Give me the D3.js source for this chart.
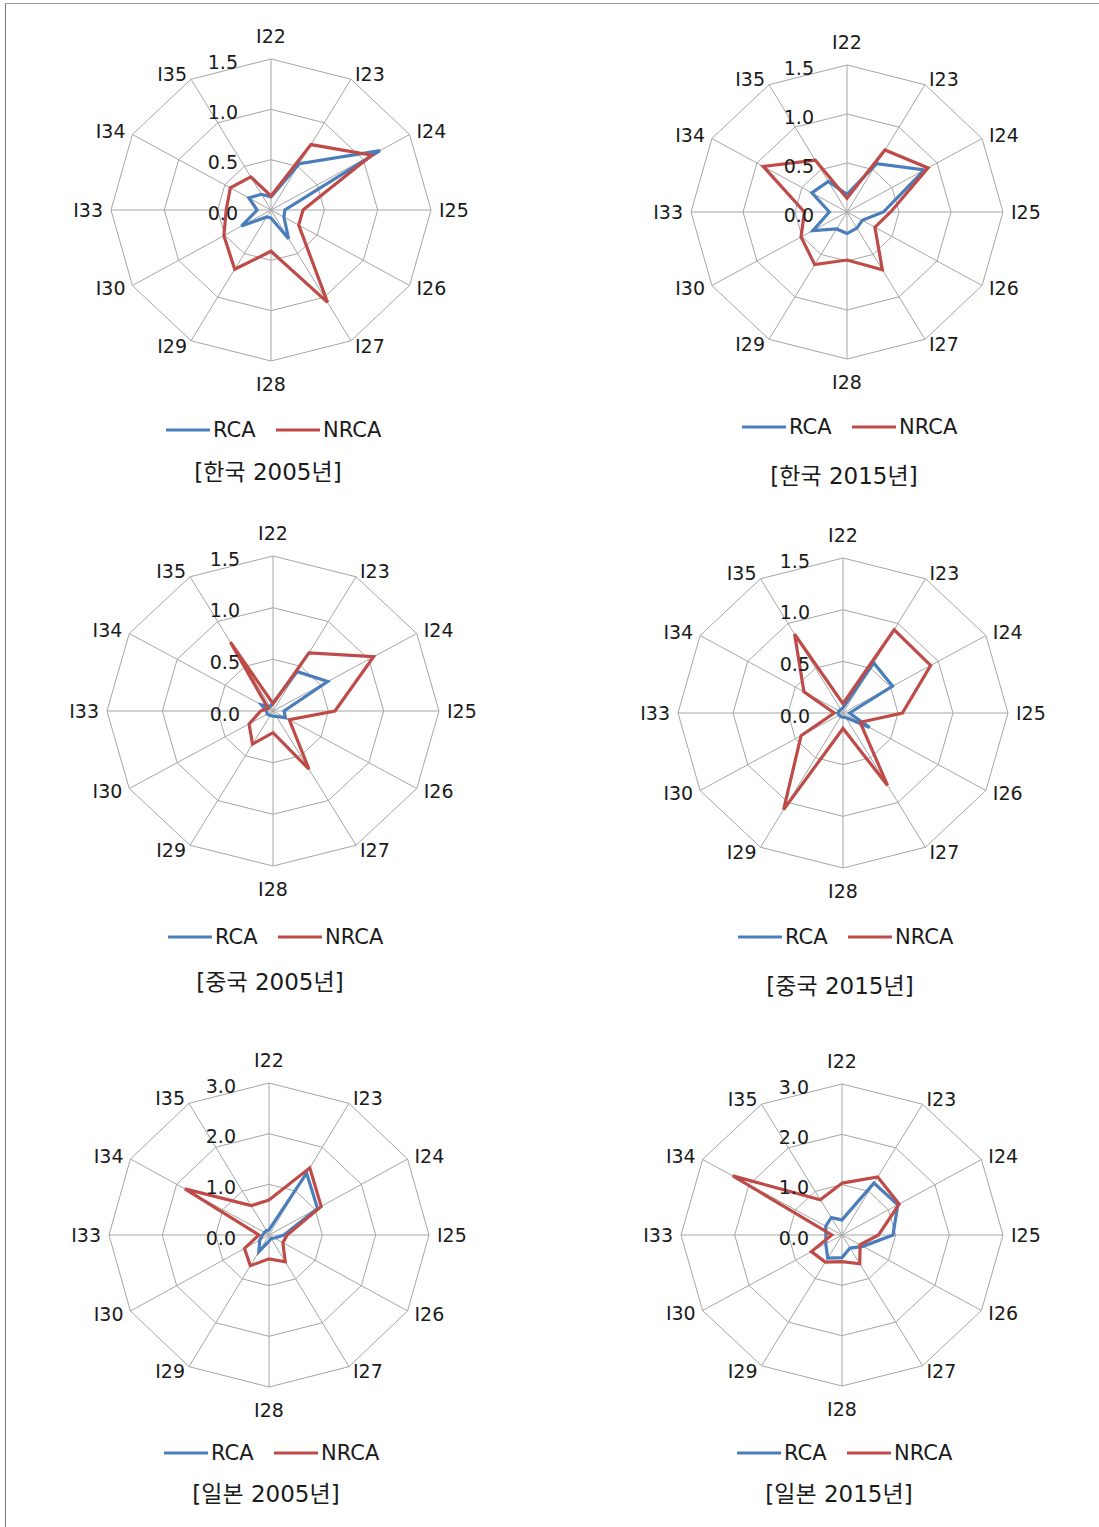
<!DOCTYPE html>
<html>
<head>
<meta charset="utf-8">
<script src="https://cdn.jsdelivr.net/npm/d3@7"></script>
<style>
	body { margin: 0; background: #fff; }
	text { font-family: "DejaVu Sans", "Noto Sans CJK KR", sans-serif; fill: #1a1a1a; }
</style>
</head>
<body>
<svg id="chart"></svg>
<script>
// categories (clockwise from top)
const axes = ['I22', 'I23', 'I24', 'I25', 'I26', 'I27', 'I28', 'I29', 'I30', 'I33', 'I34', 'I35'];
const ticksSmall = [0, 0.5, 1.0, 1.5];
const ticksLarge = [0, 1.0, 2.0, 3.0];
const seriesNames = ['RCA', 'NRCA'];

// values
const kor2005Rca  = [0.13, 0.53, 1.18, 0.13, 0.14, 0.33, 0.08, 0.08, 0.32, 0.13, 0.24, 0.18];
const kor2005Nrca = [0.14, 0.75, 1.09, 0.30, 0.30, 1.06, 0.41, 0.68, 0.51, 0.42, 0.44, 0.38];
const kor2015Rca  = [0.18, 0.57, 0.86, 0.35, 0.17, 0.19, 0.22, 0.20, 0.38, 0.17, 0.39, 0.36];
const kor2015Nrca = [0.14, 0.73, 0.90, 0.42, 0.31, 0.68, 0.49, 0.62, 0.51, 0.41, 0.93, 0.61];
const chn2005Rca  = [0.08, 0.44, 0.57, 0.10, 0.13, 0.06, 0.05, 0.05, 0.06, 0.06, 0.12, 0.05];
const chn2005Nrca = [0.07, 0.65, 1.05, 0.56, 0.17, 0.65, 0.21, 0.37, 0.25, 0.11, 0.05, 0.77];
const chn2015Rca  = [0.05, 0.56, 0.52, 0.06, 0.28, 0.05, 0.04, 0.04, 0.04, 0.05, 0.04, 0.04];
const chn2015Nrca = [0.09, 0.93, 0.92, 0.54, 0.18, 0.81, 0.15, 1.08, 0.44, 0.08, 0.41, 0.88];
const jpn2005Rca  = [0.10, 1.41, 1.05, 0.28, 0.12, 0.08, 0.12, 0.38, 0.20, 0.12, 0.10, 0.10];
const jpn2005Nrca = [0.69, 1.53, 1.13, 0.34, 0.30, 0.61, 0.47, 0.70, 0.53, 0.19, 1.82, 0.67];
const jpn2015Rca  = [0.30, 1.19, 1.20, 0.95, 0.45, 0.30, 0.45, 0.53, 0.35, 0.30, 0.35, 0.40];
const jpn2015Nrca = [1.03, 1.33, 1.23, 0.68, 0.39, 0.66, 0.53, 0.62, 0.66, 0.19, 2.35, 0.81];

const titles = ['[한국 2005년]', '[한국 2015년]', '[중국 2005년]', '[중국 2015년]', '[일본 2005년]', '[일본 2015년]'];

const panels = [
	{ cx: 271, cy: 210, rx: 160, ry: 151, ticks: ticksSmall, data: [kor2005Rca, kor2005Nrca], legY: 430, titleY: 472 },
	{ cx: 847, cy: 212, rx: 156, ry: 147, ticks: ticksSmall, data: [kor2015Rca, kor2015Nrca], legY: 427, titleY: 476 },
	{ cx: 273, cy: 711, rx: 166, ry: 155, ticks: ticksSmall, data: [chn2005Rca, chn2005Nrca], legY: 937, titleY: 982 },
	{ cx: 843, cy: 713, rx: 165, ry: 155, ticks: ticksSmall, data: [chn2015Rca, chn2015Nrca], legY: 937, titleY: 986 },
	{ cx: 269, cy: 1235, rx: 160, ry: 152, ticks: ticksLarge, data: [jpn2005Rca, jpn2005Nrca], legY: 1453, titleY: 1494 },
	{ cx: 842, cy: 1235, rx: 161, ry: 151, ticks: ticksLarge, data: [jpn2015Rca, jpn2015Nrca], legY: 1453, titleY: 1494 }
];

const colors = ['#4a7ebb', '#be4b48'];

function makeRadar(svg, p, title) {
	let g = svg.append('g').attr('transform', `translate(${p.cx},${p.cy})`);
	let max = d3.max(p.ticks);
	let sx = d3.scaleLinear().domain([0, max]).range([0, p.rx]);
	let sy = d3.scaleLinear().domain([0, max]).range([0, p.ry]);
	let angle = d3.scalePoint().domain(axes).range([0, 2 * Math.PI * (axes.length - 1) / axes.length]);

	let px = (a, v) => sx(v) * Math.sin(angle(a));
	let py = (a, v) => -sy(v) * Math.cos(angle(a));

	let ring = d3.line().curve(d3.curveLinearClosed);

	// grid rings
	g.selectAll('.ring')
		.data(p.ticks.filter(t => t > 0))
		.enter()
		.append('path')
		.attr('d', t => ring(axes.map(a => [px(a, t), py(a, t)])))
		.style('fill', 'none')
		.style('stroke', '#a6a6a6')
		.style('stroke-width', 1);

	// spokes
	g.selectAll('.spoke')
		.data(axes)
		.enter()
		.append('line')
		.attr('x1', 0).attr('y1', 0)
		.attr('x2', a => px(a, max))
		.attr('y2', a => py(a, max))
		.style('stroke', '#a6a6a6')
		.style('stroke-width', 1);

	// axis labels
	g.selectAll('.axlab')
		.data(axes)
		.enter()
		.append('text')
		.attr('x', a => {
			let s = Math.sin(angle(a));
			return px(a, max) + s * 8;
		})
		.attr('y', a => {
			let s = Math.sin(angle(a)), c = Math.cos(angle(a));
			if (Math.abs(s) < 0.01) return py(a, max) - c * 23;
			return py(a, max) - c * 6;
		})
		.attr('dy', '0.35em')
		.style('text-anchor', a => {
			let s = Math.sin(angle(a));
			return Math.abs(s) < 0.01 ? 'middle' : (s > 0 ? 'start' : 'end');
		})
		.style('font-size', '19px')
		.text(a => a);

	// series
	p.data.forEach((vals, i) => {
		g.append('path')
			.attr('d', ring(axes.map((a, k) => [px(a, vals[k]), py(a, vals[k])])))
			.style('fill', 'none')
			.style('stroke', colors[i])
			.style('stroke-width', 3.2)
			.style('stroke-linejoin', 'miter');
	});

	// tick labels
	g.selectAll('.tick')
		.data(p.ticks)
		.enter()
		.append('text')
		.attr('x', -33)
		.attr('y', t => -sy(t) + 3)
		.attr('dy', '0.35em')
		.style('text-anchor', 'end')
		.style('font-size', '19px')
		.text(t => t.toFixed(1));

	// legend
	let leg = svg.append('g').attr('transform', `translate(${p.cx},${p.legY})`);
	let legX = [-105, 5];
	seriesNames.forEach((name, i) => {
		leg.append('line')
			.attr('x1', legX[i]).attr('x2', legX[i] + 44)
			.attr('y1', 0).attr('y2', 0)
			.style('stroke', colors[i])
			.style('stroke-width', 3);
		leg.append('text')
			.attr('x', legX[i] + 47)
			.attr('y', 0)
			.attr('dy', '0.35em')
			.style('font-size', '21px')
			.text(name);
	});

	svg.append('text')
		.attr('x', p.cx - 3)
		.attr('y', p.titleY)
		.attr('dy', '0.35em')
		.style('text-anchor', 'middle')
		.style('font-size', '23px')
		.text(title);
}

function makeChart() {
	let w = 1099;
	let h = 1527;
	let svg = d3.select('#chart').attr('width', w).attr('height', h);

	svg.append('line').attr('x1', 5.5).attr('x2', 5.5).attr('y1', 3).attr('y2', h)
		.style('stroke', '#777').style('stroke-width', 1);
	svg.append('line').attr('x1', 5).attr('x2', w).attr('y1', 3.5).attr('y2', 3.5)
		.style('stroke', '#999').style('stroke-width', 1);

	panels.forEach((p, i) => makeRadar(svg, p, titles[i]));
}

window.onload = makeChart;
</script>
</body>
</html>
